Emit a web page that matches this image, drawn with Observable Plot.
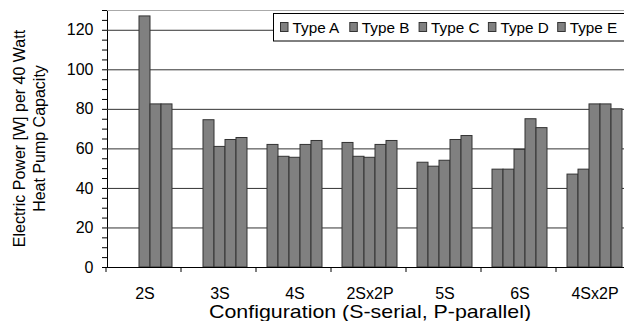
<!DOCTYPE html>
<html><head><meta charset="utf-8">
<script src="https://cdn.jsdelivr.net/npm/d3@7"></script>
<script src="https://cdn.jsdelivr.net/npm/@observablehq/plot@0.6"></script>
<style>
html,body{margin:0;padding:0;background:#fff;overflow:hidden;}
#chart{width:624px;height:321px;overflow:hidden;position:relative;}
#chart svg{overflow:hidden;}
</style></head><body><div id="chart"></div>
<script>
const groups = ["2S", "3S", "4S", "2Sx2P", "5S", "6S", "4Sx2P"];
const types = ["Type A", "Type B", "Type C", "Type D", "Type E"];
const typeA = [null, null, 62, 63, 53, 49.5, 47];
const typeB = [null, 74.5, 56, 56, 51, 49.5, 49.5];
const typeC = [127, 61, 55.5, 55.5, 54, 59.5, 82.5];
const typeD = [82.5, 64.5, 62, 62, 64.5, 75, 82.5];
const typeE = [82.5, 65.5, 64, 64, 66.5, 70.5, 80];
const yTickLabels = [0, 20, 40, 60, 80, 100, 120];
const yMinorTicks = d3.range(0, 131, 5);
const xTitle = "Configuration (S-serial, P-parallel)";
const yTitle = ["Electric Power [W] per 40 Watt", "Heat Pump Capacity"];

const series = [typeA, typeB, typeC, typeD, typeE];
const data = groups.flatMap((g, i) => types.map((t, j) => ({group: g, type: t, value: series[j][i]})));

const font = "'Liberation Sans', Arial, Helvetica, sans-serif";
const plot = Plot.plot({
  width: 624, height: 321,
  marginLeft: 106, marginRight: -9, marginTop: 10, marginBottom: 54,
  style: {fontFamily: font, fontSize: "16px", color: "#000", background: "#fff"},
  facet: {data, x: "group"},
  fx: {domain: groups, padding: 0, axis: "bottom", tickSize: 0, tickPadding: 20, label: null},
  x: {domain: types, paddingInner: 0, paddingOuter: 0.75, axis: null},
  y: {domain: [0, 130], ticks: yMinorTicks, tickFormat: d => yTickLabels.includes(d) ? d : "", tickSize: 5, tickPadding: 9, line: true, label: null},
  marks: [
    Plot.ruleY([130], {stroke: "#aaa"}),
    Plot.ruleY(yTickLabels.filter(d => d > 0), {stroke: "#333"}),
    Plot.barY(data, {x: "type", y: "value", fill: "#808080", stroke: "#333", strokeWidth: 1}),
    Plot.ruleY([0], {stroke: "#000"})
  ]
});
document.getElementById("chart").appendChild(plot);

const svg = d3.select(plot.tagName.toLowerCase() === "svg" ? plot : plot.querySelector("svg"));
const fxs = plot.scale("fx");
const ys = plot.scale("y");
const yl = d3.scaleLinear().domain(ys.domain).range(ys.range);
const step = fxs.step || fxs.bandwidth;
const x0 = Math.min(...fxs.range);
const edges = d3.range(groups.length + 1).map(i => x0 + i * step);
const y0 = yl(0);

// boundary ticks on x axis
svg.append("g").selectAll("line").data(edges).join("line")
  .attr("x1", d => d).attr("x2", d => d)
  .attr("y1", y0).attr("y2", y0 + 5)
  .attr("stroke", "#000");

// x title
svg.append("text")
  .attr("x", 209).attr("y", 318)
  .attr("text-anchor", "start")
  .attr("textLength", 322).attr("lengthAdjust", "spacingAndGlyphs")
  .attr("font-family", font).attr("font-size", 19).attr("fill", "#000")
  .text(xTitle);

// y title
const yc = (yl(0) + yl(130)) / 2;
const yg = svg.append("g").attr("transform", `translate(0,${yc}) rotate(-90)`);
yg.selectAll("text").data(yTitle).join("text")
  .attr("x", 0).attr("y", (d, i) => 24.5 + i * 20.5)
  .attr("text-anchor", "middle")
  .attr("font-family", font).attr("font-size", 16).attr("fill", "#000")
  .text(d => d);

// legend
const lg = svg.append("g").attr("font-family", font).attr("font-size", 15.3).attr("text-anchor", "start");
lg.append("rect").attr("x", 273.5).attr("y", 13.5).attr("width", 400).attr("height", 27.5)
  .attr("fill", "#fff").attr("stroke", "#000");
const items = lg.selectAll("g.item").data(types).join("g")
  .attr("class", "item")
  .attr("transform", (d, i) => `translate(${280 + i * 69.3},0)`);
items.append("rect").attr("x", 0.5).attr("y", 22.5).attr("width", 7.5).attr("height", 9)
  .attr("fill", "#808080").attr("stroke", "#333");
items.append("text").attr("x", 12.5).attr("y", 32.5).attr("fill", "#000").attr("text-anchor", "start").text(d => d);
</script></body></html>
